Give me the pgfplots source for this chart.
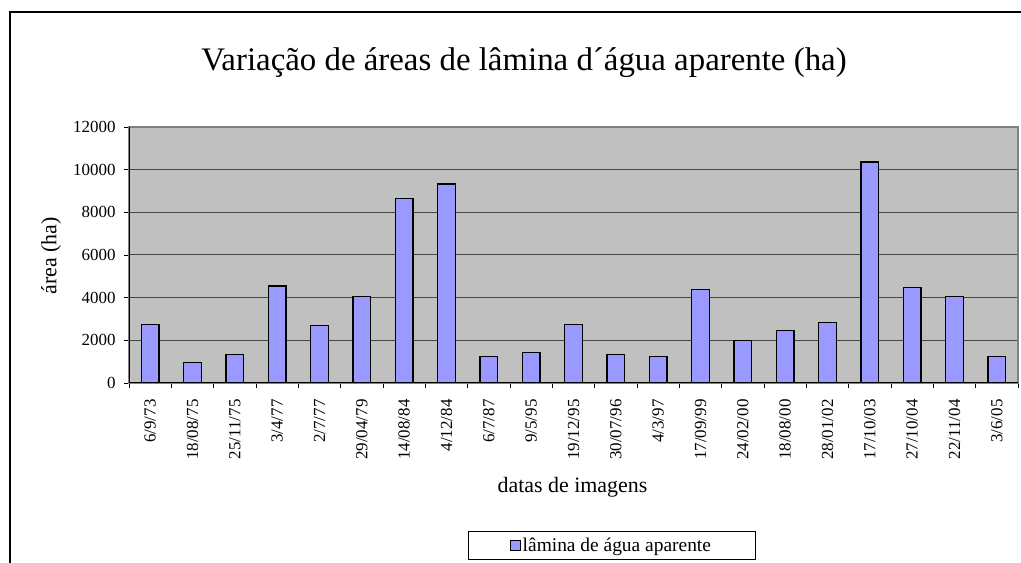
\documentclass[border=0pt]{standalone}
\usepackage{fontspec}
\setmainfont{Liberation Serif}
\usepackage{pgfplots}
\pgfplotsset{compat=1.18}
\definecolor{barblue}{RGB}{153,153,255}
\definecolor{plotgray}{RGB}{192,192,192}
\definecolor{gridc}{RGB}{70,70,70}
\definecolor{boxc}{RGB}{128,128,128}
\begin{document}
\begin{tikzpicture}
\useasboundingbox (0,0) rectangle (1021bp,563bp);
\draw[line width=1.3bp] (10bp,0) -- (10bp,551bp) -- (1021bp,551bp);
\node[font=\fontsize{33}{38}\selectfont, anchor=base] at (524bp,492bp) {Variação de áreas de lâmina d´água aparente (ha)};
\node[font=\fontsize{22}{26}\selectfont, anchor=base] at (572.5bp,70bp) {datas de imagens};
\node[font=\fontsize{22}{26}\selectfont, rotate=90, anchor=center] at (51bp,307bp) {área (ha)};
\begin{axis}[
  at={(129bp,180bp)}, anchor=south west,
  scale only axis, width=889bp, height=256bp,
  ybar, bar width=17.5bp, bar shift=0pt,
  xmin=-0.5, xmax=20.5, ymin=0, ymax=12000,
  xtick={0,...,20},
  xticklabels={6/9/73,18/08/75,25/11/75,3/4/77,2/7/77,29/04/79,14/08/84,4/12/84,6/7/87,9/5/95,19/12/95,30/07/96,4/3/97,17/09/99,24/02/00,18/08/00,28/01/02,17/10/03,27/10/04,22/11/04,3/6/05},
  minor xtick={-0.5,0.5,...,20.5},
  major x tick style={draw=none},
  ytick={0,2000,...,12000},
  scaled y ticks=false,
  ymajorgrids,
  major grid style={draw=gridc, line width=1bp},
  tick align=outside, tick pos=left,
  major tick length=5bp, minor tick length=5bp,
  every tick/.style={black, line width=0.8bp},
  axis line style={draw=boxc, line width=1.2bp},
  axis background/.style={fill=plotgray},
  /pgf/number format/assume math mode=true,
  /pgf/number format/1000 sep={},
  yticklabel style={font=\fontsize{17}{20}\selectfont, xshift=-5bp},
  xticklabel style={font=\fontsize{17}{20}\selectfont, rotate=90, anchor=east, xshift=-8bp},
  legend style={at={(0.5427,-0.6348)}, anchor=center, draw=black, line width=0.8bp,
    font=\fontsize{19.5}{22}\selectfont, inner xsep=42bp, inner ysep=4.5bp},
  legend image code/.code={\draw[fill=barblue, draw=black, line width=0.8bp] (0bp,-5bp) rectangle (10bp,5bp);},
]
\addplot[fill=barblue, draw=black, line width=1.2bp] coordinates {
(0,2760) (1,960) (2,1340) (3,4550) (4,2690) (5,4040) (6,8660) (7,9330) (8,1260) (9,1420)
(10,2760) (11,1340) (12,1260) (13,4400) (14,2010) (15,2460) (16,2820) (17,10360) (18,4460) (19,4040) (20,1260)
};
\addlegendentry{lâmina de água aparente}
\draw[black, line width=1.2bp] (rel axis cs:0,1) -- (rel axis cs:0,0) -- (rel axis cs:1,0);
\end{axis}
\end{tikzpicture}
\end{document}
